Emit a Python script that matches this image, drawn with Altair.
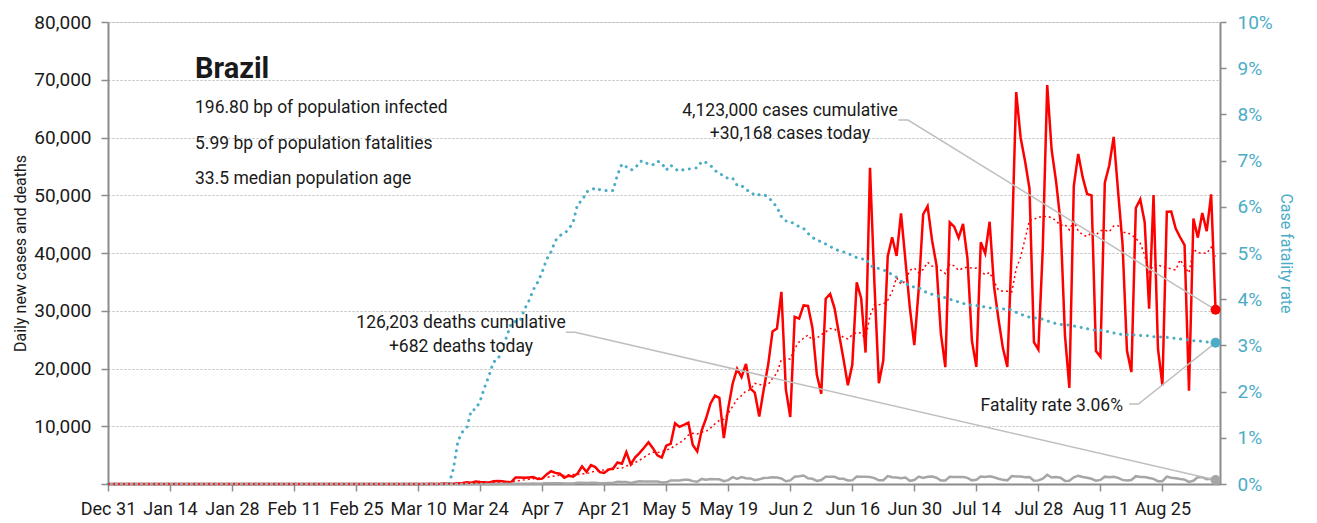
import altair as alt
import pandas as pd

FONT = "Roboto"
RED = "#ff0000"
BLUE = "#4bacc6"
GRAY = "#a6a6a6"
LEADER = "#bfbfbf"
AXIS = "#8c8c8c"
INK = "#1a1a1a"

# ---------------- data (ECDC report dates, 2019-12-31 .. 2020-09-06) ----------------
start_date = "2019-12-31"

cases_before_feb26 = [0] * 57
cases_feb = [1, 0, 0, 1]
cases_mar = [0, 0, 0, 1, 0, 5, 5, 6, 0, 6, 9, 18, 25, 21, 23, 79, 34, 57, 137, 193,
             283, 224, 418, 345, 310, 232, 482, 502, 487, 352, 323]
cases_apr = [1138, 1119, 1074, 1146, 1222, 852, 926, 1661, 2210, 1930, 1781, 1089, 1442, 1261, 1832,
             3058, 2105, 3257, 2917, 2055, 1927, 2498, 2678, 3735, 3503, 5514, 3379, 4613, 5385, 6276]
cases_may = [7218, 6209, 4970, 4588, 6633, 6935, 10503, 9888, 10222, 10611, 6760, 5632, 9258, 11385, 13944,
             15305, 14919, 7938, 13140, 17408, 19951, 18508, 20803, 16508, 15813, 11687, 16324, 20599,
             26417, 26928, 33274]
cases_jun = [16409, 11598, 28936, 28633, 30925, 30830, 27075, 18912, 15654, 32091, 32913, 30412, 25982,
             21704, 17110, 20647, 34918, 32188, 22765, 54771, 34666, 17459, 21432, 39436, 42725, 39483,
             46860, 38693, 30476, 24052]
cases_jul = [33846, 46712, 48105, 42223, 37923, 26051, 20229, 45305, 44571, 42619, 45048, 39023, 24831,
             20286, 41857, 39924, 45403, 34177, 28532, 23529, 20257, 41008, 67860, 59961, 55891, 51147,
             24578, 23284, 40816, 69074, 57837]
cases_aug = [52383, 45392, 25800, 16641, 51603, 57152, 53139, 50230, 49970, 23010, 22048, 52160, 55155,
             60091, 50644, 41576, 23101, 19373, 47784, 49298, 45323, 30355, 50032, 23421, 17078, 47134,
             47161, 44235, 42725, 41350, 16158]
cases_sep = [45961, 42659, 46934, 43773, 50163, 30168]

deaths_before_mar18 = [0] * 78
deaths_mar = [1, 3, 3, 4, 7, 7, 9, 12, 11, 20, 15, 22, 22, 23]
deaths_apr = [42, 40, 58, 60, 73, 54, 67, 114, 133, 141, 115, 68, 99, 105, 204, 204, 188, 217, 206, 115,
              113, 166, 165, 407, 357, 346, 189, 338, 474, 449]
deaths_may = [435, 428, 421, 275, 296, 600, 615, 610, 751, 730, 496, 396, 881, 749, 844, 824, 816, 485,
              674, 1179, 888, 1188, 1001, 965, 653, 807, 1039, 1086, 1156, 1124, 956]
deaths_jun = [480, 623, 1262, 1349, 1473, 1005, 904, 525, 679, 1272, 1274, 1239, 909, 892, 612, 627, 1282,
              1269, 1238, 1206, 1022, 641, 654, 1374, 1185, 1141, 990, 1109, 552, 692]
deaths_jul = [1280, 1038, 1252, 1290, 1091, 602, 620, 1254, 1223, 1220, 1214, 1071, 631, 733, 1300, 1233,
              1322, 1163, 921, 716, 632, 1367, 1284, 1311, 1156, 1211, 555, 627, 921, 1595, 1129]
deaths_aug = [1212, 1088, 541, 561, 1154, 1437, 1226, 1079, 905, 572, 703, 1274, 1175, 1262, 1060, 709,
              620, 684, 1352, 1212, 1204, 1054, 892, 494, 494, 1271, 1085, 984, 855, 758, 366]
deaths_sep = [553, 1215, 1184, 834, 907, 682]

cases = (cases_before_feb26 + cases_feb + cases_mar + cases_apr + cases_may + cases_jun
         + cases_jul + cases_aug + cases_sep)
deaths = (deaths_before_mar18 + deaths_mar + deaths_apr + deaths_may + deaths_jun
          + deaths_jul + deaths_aug + deaths_sep)

tick_dates = ["2019-12-31", "2020-01-14", "2020-01-28", "2020-02-11", "2020-02-25", "2020-03-10",
              "2020-03-24", "2020-04-07", "2020-04-21", "2020-05-05", "2020-05-19", "2020-06-02",
              "2020-06-16", "2020-06-30", "2020-07-14", "2020-07-28", "2020-08-11", "2020-08-25"]
left_ticks = [0, 10000, 20000, 30000, 40000, 50000, 60000, 70000, 80000]
right_ticks = [0, 0.01, 0.02, 0.03, 0.04, 0.05, 0.06, 0.07, 0.08, 0.09, 0.10]

country = "Brazil"
info_lines = ["196.80 bp of population infected", "5.99 bp of population fatalities",
              "33.5 median population age"]
cases_note = ["4,123,000 cases cumulative", "+30,168 cases today"]
deaths_note = ["126,203 deaths cumulative", "+682 deaths today"]
fatality_note = "Fatality rate 3.06%"
fatality_today = 0.0306

# leader lines (data coordinates)
cases_leader = pd.DataFrame({"date": pd.to_datetime(["2020-06-26 10:00", "2020-06-28 14:00", "2020-09-06 00:00"]),
                             "v": [63030, 63030, cases[-1]]})
deaths_leader = pd.DataFrame({"date": pd.to_datetime(["2020-04-12 09:00", "2020-04-14 10:00", "2020-09-06 00:00"]),
                              "v": [26270, 26270, deaths[-1]]})
fatal_leader = pd.DataFrame({"date": pd.to_datetime(["2020-08-17 12:00", "2020-08-19 14:00", "2020-09-06 00:00"]),
                             "v": [0.01732, 0.01732, fatality_today]})

dates = pd.date_range(start_date, periods=len(cases), freq="D")
df = pd.DataFrame({"date": dates, "cases": cases, "deaths": deaths})

# ---------------- chart ----------------
def dt(s):
    t = pd.Timestamp(s)
    return alt.DateTime(year=t.year, month=t.month, date=t.day)

x_scale = alt.Scale(domain=[dt("2019-12-31"), dt("2020-09-07")])
x_axis = alt.Axis(
    values=[dt(d) for d in tick_dates], format="%b %-d", title=None, grid=False,
    labelFont=FONT, labelFontSize=18, labelColor=INK, labelPadding=9,
    tickSize=7, tickColor=AXIS, tickWidth=1.5, domainColor=AXIS, domainWidth=2,
    labelFlush=False, labelOverlap=False)
X = alt.X("date:T", scale=x_scale, axis=x_axis)
yl_scale = alt.Scale(domain=[0, 80000])
yr_scale = alt.Scale(domain=[0, 0.10])

base = alt.Chart(df).transform_window(
    avg7="mean(cases)", frame=[-6, 0], sort=[alt.SortField("date")]
).transform_window(
    cum_cases="sum(cases)", cum_deaths="sum(deaths)", frame=[None, 0], sort=[alt.SortField("date")]
).transform_calculate(
    cfr="datum.cum_cases > 0 ? datum.cum_deaths / datum.cum_cases : 0"
)

cases_line = base.mark_line(color=RED, strokeWidth=2.5, strokeJoin="miter").encode(
    x=X,
    y=alt.Y("cases:Q", scale=yl_scale, axis=alt.Axis(
        values=left_ticks, format=",.0f", labelExpr="datum.value == 0 ? '' : datum.label",
        title="Daily new cases and deaths", titleFont=FONT, titleFontSize=16, titleFontWeight="normal",
        titleColor=INK, titleX=-88, titleY=231, titleBaseline="middle", titleAngle=270,
        labelFont=FONT, labelFontSize=19, labelColor=INK, labelPadding=10,
        tickSize=7, tickColor=AXIS, tickWidth=1.5, domainColor=AXIS, domainWidth=2,
        grid=True, gridColor="#bdbdbd", gridDash=[2, 2], gridWidth=1)),
)

avg_line = base.mark_line(color=RED, strokeWidth=1.5, strokeDash=[2, 3]).encode(
    x=X, y=alt.Y("avg7:Q", scale=yl_scale, axis=None))

deaths_line = base.mark_line(color=GRAY, strokeWidth=2.5).encode(
    x=X, y=alt.Y("deaths:Q", scale=yl_scale, axis=None))

cfr_line = base.mark_line(color=BLUE, strokeWidth=3, strokeDash=[0.1, 6.6], strokeCap="round").encode(
    x=X,
    y=alt.Y("cfr:Q", scale=yr_scale, axis=alt.Axis(
        orient="right", values=right_ticks, format=".0%",
        title="Case fatality rate", titleFont=FONT, titleFontSize=16, titleFontWeight="normal",
        titleColor=BLUE, titleX=65, titleY=231, titleBaseline="middle", titleAngle=90,
        labelFont=FONT, labelFontSize=19, labelColor=BLUE, labelPadding=11,
        tickSize=6, tickColor=AXIS, tickWidth=1.5, domainColor=AXIS, domainWidth=2, grid=False)),
)

last = base.transform_filter(alt.FieldEqualPredicate(field="date", equal=dt("2020-09-06")))
dot_cases = last.mark_circle(color=RED, size=100, opacity=1).encode(
    x=X, y=alt.Y("cases:Q", scale=yl_scale, axis=None))
dot_deaths = last.mark_circle(color=GRAY, size=100, opacity=1).encode(
    x=X, y=alt.Y("deaths:Q", scale=yl_scale, axis=None))
dot_cfr = last.mark_circle(color=BLUE, size=100, opacity=1).encode(
    x=X, y=alt.Y("cfr:Q", scale=yr_scale, axis=None))

def leader(frame, scale):
    return alt.Chart(frame).mark_line(color=LEADER, strokeWidth=1.5).encode(
        x=X, y=alt.Y("v:Q", scale=scale, axis=None))

def text(lines, x, y0, dy, size=17.5, align="left", weight="normal"):
    layers = []
    for i, s in enumerate(lines):
        layers.append(alt.Chart(pd.DataFrame({"t": [s]})).mark_text(
            font=FONT, fontSize=size, fontWeight=weight, color=INK, align=align,
            baseline="alphabetic", x=x, y=y0 + i * dy).encode(text="t:N"))
    return layers

texts = []
texts += text([country], 87, 56, 0, size=29, weight="bold")
texts += text(info_lines, 87, 91, 35.5)
texts += text(cases_note, 682, 94, 23, align="center")
texts += text(deaths_note, 353, 306, 24, align="center")
texts += text([fatality_note], 1015, 389, 0, align="right")

chart = alt.layer(
    cases_line, cfr_line, deaths_line, avg_line,
    leader(cases_leader, yl_scale), leader(deaths_leader, yl_scale), leader(fatal_leader, yr_scale),
    dot_cases, dot_deaths, dot_cfr, *texts
).resolve_scale(y="independent").properties(
    width=1112, height=462,
    autosize=alt.AutoSizeParams(type="none"),
    padding={"left": 100, "top": 14, "right": 85, "bottom": 36},
).configure_view(stroke=None).configure(font=FONT)

chart.save("out.html", embed_options={"renderer": "svg", "actions": False})
